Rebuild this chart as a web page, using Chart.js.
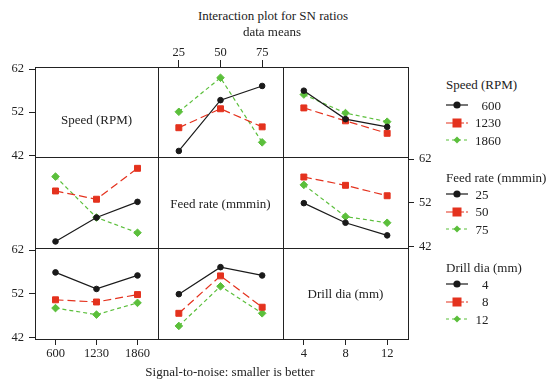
<!DOCTYPE html>
<html><head><meta charset="utf-8">
<script src="https://cdn.jsdelivr.net/npm/chart.js@4.4.0/dist/chart.umd.min.js"></script>
<style>
body{margin:0;background:#fff;width:552px;height:383px;position:relative;overflow:hidden;font-family:"Liberation Serif","DejaVu Serif",serif;color:#222;}
canvas{position:absolute;}
.t{position:absolute;font-size:13px;white-space:nowrap;line-height:15px;height:15px;}
svg{position:absolute;}
</style></head><body>
<script>
// ---------- data ----------
const speedLabels = ['600', '1230', '1860'];
const feedLabels = ['25', '50', '75'];
const drillLabels = ['4', '8', '12'];
const yTicks = [42, 52, 62];

// Speed (RPM) lines, x = Feed rate
const speed600_byFeed  = [43.0, 54.8, 58.1];
const speed1230_byFeed = [48.4, 52.8, 48.6];
const speed1860_byFeed = [52.1, 60.0, 45.0];
// Speed (RPM) lines, x = Drill dia
const speed600_byDrill  = [57.0, 50.4, 48.6];
const speed1230_byDrill = [53.0, 50.0, 47.1];
const speed1860_byDrill = [56.1, 51.8, 49.8];
// Feed rate lines, x = Speed
const feed25_bySpeed = [43.1, 48.6, 52.2];
const feed50_bySpeed = [54.7, 52.8, 59.9];
const feed75_bySpeed = [58.0, 48.6, 45.1];
// Feed rate lines, x = Drill dia
const feed25_byDrill = [51.9, 47.4, 44.5];
const feed50_byDrill = [57.9, 56.0, 53.6];
const feed75_byDrill = [56.1, 48.8, 47.4];
// Drill dia lines, x = Speed
const drill4_bySpeed  = [56.9, 53.1, 56.2];
const drill8_bySpeed  = [50.6, 50.1, 51.8];
const drill12_bySpeed = [48.7, 47.2, 49.9];
// Drill dia lines, x = Feed rate
const drill4_byFeed  = [51.9, 58.1, 56.2];
const drill8_byFeed  = [47.5, 56.1, 48.9];
const drill12_byFeed = [44.6, 53.7, 47.5];

const factorNames = ['Speed (RPM)', 'Feed rate (mmmin)', 'Drill dia (mm)'];
const levelLabels = [speedLabels, feedLabels, drillLabels];

// ---------- layout / styles ----------
const colEdges = [35, 158, 283, 408];
const rowEdges = [67, 157, 248, 339];
const P = 16;
const Y_MIN = 41.6, Y_MAX = 62.5;
const styles = [
  {color: '#1a1a1a', pointStyle: 'circle', radius: 2.8, dash: []},
  {color: '#e4321e', pointStyle: 'rect', radius: 4.2, dash: [8, 4]},
  {color: '#5bbf3b', pointStyle: 'rectRot', radius: 3.8, dash: [4, 3]}
];
const panels = {
  '0,1': [speed600_byFeed, speed1230_byFeed, speed1860_byFeed],
  '0,2': [speed600_byDrill, speed1230_byDrill, speed1860_byDrill],
  '1,0': [feed25_bySpeed, feed50_bySpeed, feed75_bySpeed],
  '1,2': [feed25_byDrill, feed50_byDrill, feed75_byDrill],
  '2,0': [drill4_bySpeed, drill8_bySpeed, drill12_bySpeed],
  '2,1': [drill4_byFeed, drill8_byFeed, drill12_byFeed]
};

Chart.defaults.font.family = "'Liberation Serif', 'DejaVu Serif', serif";
Chart.defaults.color = '#222';

const borderPlugin = {
  id: 'cellBorder',
  afterDraw(chart) {
    const {ctx, chartArea: a} = chart;
    ctx.save();
    ctx.strokeStyle = '#222';
    ctx.lineWidth = 1;
    ctx.strokeRect(Math.round(a.left) + 0.5, Math.round(a.top) + 0.5, Math.round(a.right - a.left), Math.round(a.bottom - a.top));
    ctx.restore();
  }
};

const tickFont = {size: 12.5, family: "'Liberation Serif', 'DejaVu Serif', serif"};
const gridCfg = {display: true, drawOnChartArea: false, drawTicks: true, color: '#222', lineWidth: 1};

for (let r = 0; r < 3; r++) {
  for (let c = 0; c < 3; c++) {
    const showLeft = c === 0 && r !== 1;
    const showRight = c === 2 && r === 1;
    const showTop = r === 0 && c === 1;
    const showBottom = r === 2 && c !== 1;
    const leftW = showLeft ? 35 : 0, rightW = showRight ? 30 : 0;
    const topH = showTop ? 22 : 0, bottomH = showBottom ? 24 : 0;
    const cx = colEdges[c], cy = rowEdges[r];
    const cw = colEdges[c + 1] - cx, ch = rowEdges[r + 1] - cy;
    const cv = document.createElement('canvas');
    const W = cw + 2 * P + leftW + rightW, H = ch + 2 * P + topH + bottomH;
    cv.width = W; cv.height = H;
    cv.style.left = (cx - P - leftW) + 'px';
    cv.style.top = (cy - P - topH) + 'px';
    cv.style.width = W + 'px'; cv.style.height = H + 'px';
    document.body.appendChild(cv);

    const series = panels[r + ',' + c] || [];
    const datasets = series.map((vals, i) => ({
      label: levelLabels[r][i],
      data: vals,
      borderColor: styles[i].color,
      backgroundColor: styles[i].color,
      pointBackgroundColor: styles[i].color,
      pointBorderColor: styles[i].color,
      pointStyle: styles[i].pointStyle,
      pointRadius: styles[i].radius,
      pointBorderWidth: 1,
      borderWidth: 1.2,
      borderDash: styles[i].dash,
      tension: 0,
      fill: false
    }));

    new Chart(cv, {
      type: 'line',
      data: {labels: levelLabels[c], datasets},
      options: {
        responsive: false,
        animation: false,
        devicePixelRatio: 1,
        layout: {padding: P},
        plugins: {legend: {display: false}, tooltip: {enabled: false}, title: {display: false}},
        scales: {
          x: {
            type: 'category',
            labels: levelLabels[c],
            offset: true,
            position: showTop ? 'top' : 'bottom',
            display: showTop || showBottom,
            grid: Object.assign({}, gridCfg, {tickLength: showTop ? 7 : 6, offset: false}),
            border: {display: false},
            ticks: {font: tickFont, color: '#222', padding: showTop ? 0 : 1, maxRotation: 0, autoSkip: false},
            afterFit(s) { s.height = showTop ? topH : bottomH; }
          },
          y: {
            type: 'linear',
            min: Y_MIN, max: Y_MAX,
            position: showRight ? 'right' : 'left',
            display: showLeft || showRight,
            grid: Object.assign({}, gridCfg, {tickLength: 6}),
            border: {display: false},
            ticks: {font: tickFont, color: '#222', padding: 5},
            afterBuildTicks(s) { s.ticks = yTicks.map(v => ({value: v})); },
            afterFit(s) { s.width = showRight ? rightW : leftW; }
          }
        }
      },
      plugins: [borderPlugin]
    });
  }
}

// ---------- text ----------
function addText(txt, centerX, centerY, opts) {
  const d = document.createElement('div');
  d.className = 't';
  d.textContent = txt;
  if (opts && opts.right !== undefined) {
    d.style.left = (opts.right - 100) + 'px';
    d.style.width = '100px';
    d.style.textAlign = 'right';
  } else if (opts && opts.left !== undefined) {
    d.style.left = opts.left + 'px';
  } else {
    d.style.left = (centerX - 150) + 'px';
    d.style.width = '300px';
    d.style.textAlign = 'center';
  }
  d.style.top = (centerY - 7.5) + 'px';
  document.body.appendChild(d);
}
addText('Interaction plot for SN ratios', 273, 15);
addText('data means', 272, 31);
addText('Signal-to-noise: smaller is better', 230, 371);
const diagY = [119, 203.5, 293.5];
for (let k = 0; k < 3; k++) {
  addText(factorNames[k], (colEdges[k] + colEdges[k + 1]) / 2, diagY[k]);
}

// ---------- legend ----------
const legendTitleY = [84, 177, 267.5];
const legendItemY = [[105, 122.5, 140], [194, 211.7, 229.3], [284.3, 301.7, 319.3]];
const legendRight = [501, 488.5, 488.5];
function markerSvg(i, y) {
  const s = styles[i];
  const ns = 'http://www.w3.org/2000/svg';
  const svg = document.createElementNS(ns, 'svg');
  svg.setAttribute('width', '24'); svg.setAttribute('height', '12');
  svg.style.left = '445px'; svg.style.top = (y - 6) + 'px';
  const line = document.createElementNS(ns, 'line');
  line.setAttribute('x1', '1'); line.setAttribute('x2', '23');
  line.setAttribute('y1', '6'); line.setAttribute('y2', '6');
  line.setAttribute('stroke', s.color); line.setAttribute('stroke-width', '1.2');
  if (s.dash.length) line.setAttribute('stroke-dasharray', i === 2 ? '3 3' : '8 2');
  svg.appendChild(line);
  let m;
  if (i === 0) {
    m = document.createElementNS(ns, 'circle');
    m.setAttribute('cx', '12'); m.setAttribute('cy', '6'); m.setAttribute('r', '3.6');
  } else if (i === 1) {
    m = document.createElementNS(ns, 'rect');
    m.setAttribute('x', '7.5'); m.setAttribute('y', '1.5'); m.setAttribute('width', '9'); m.setAttribute('height', '9');
  } else {
    m = document.createElementNS(ns, 'polygon');
    m.setAttribute('points', '12,2.5 15.5,6 12,9.5 8.5,6');
  }
  m.setAttribute('fill', s.color);
  svg.appendChild(m);
  document.body.appendChild(svg);
}
for (let g = 0; g < 3; g++) {
  addText(factorNames[g], 0, legendTitleY[g], {left: 446});
  for (let i = 0; i < 3; i++) {
    markerSvg(i, legendItemY[g][i]);
    addText(levelLabels[g][i], 0, legendItemY[g][i], {right: legendRight[g]});
  }
}
</script>
</body></html>
